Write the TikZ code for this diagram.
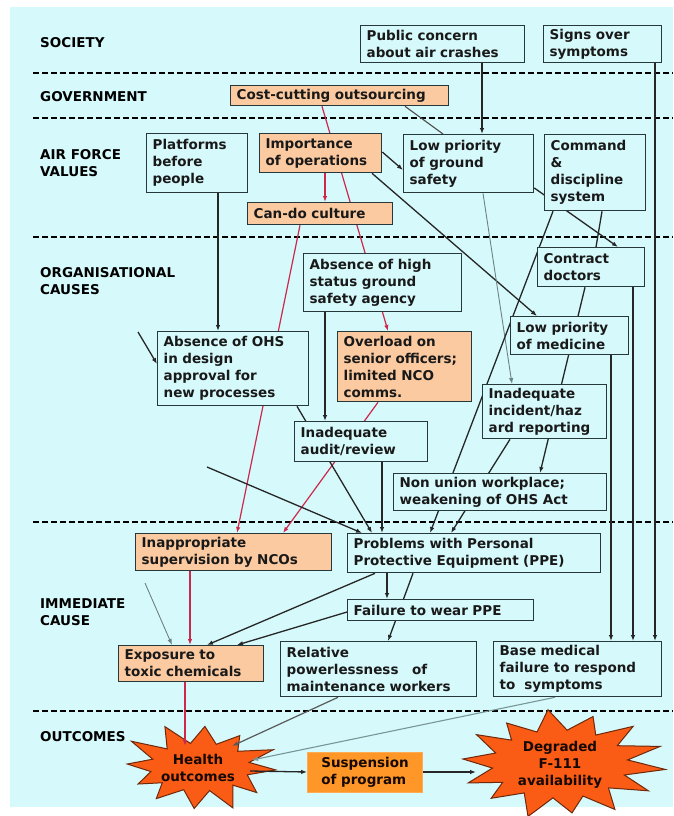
\documentclass[tikz,border=0pt]{standalone}
\usepackage{fontspec}
\setmainfont{DejaVu Sans}
\usetikzlibrary{arrows.meta}
\definecolor{bgcyan}{RGB}{214,249,251}
\definecolor{peach}{RGB}{251,202,160}
\definecolor{bordc}{RGB}{38,56,58}
\definecolor{redc}{RGB}{205,40,75}
\definecolor{burstc}{RGB}{250,92,22}
\definecolor{burstline}{RGB}{110,40,10}
\definecolor{suspc}{RGB}{255,150,40}
\definecolor{txtc}{RGB}{25,25,25}
\definecolor{grayl}{RGB}{110,130,130}
\definecolor{tealg}{RGB}{120,150,150}
\pgfdeclarelayer{bg}
\pgfdeclarelayer{edges}
\pgfsetlayers{bg,edges,main}
\tikzset{
  txt/.style={font=\fontsize{13.5}{17}\selectfont\bfseries, text=txtc},
  bx/.style={txt, draw=bordc, line width=1.3pt, fill=bgcyan, anchor=north west,
    inner xsep=6pt, inner ysep=0pt, align=left},
  obx/.style={bx, fill=peach},
  lbl/.style={txt, text=black, anchor=west, align=left, inner sep=0pt},
  sep/.style={line width=2pt, dash pattern=on 6pt off 3pt, black},
  arr/.style={-{Latex[length=6pt,width=4.5pt]}},
  blk/.style={arr, line width=1.3pt, black!85},
  nar/.style={line width=1.3pt, black!85},
  redl/.style={arr, line width=1.2pt, redc},
  redthick/.style={arr, line width=2.6pt, redc},
  gryl/.style={arr, line width=0.9pt, grayl},
  gryna/.style={line width=1.1pt, black!70},
  burstfill/.style={draw=burstline, line width=1pt, fill=burstc, line join=miter},
  bursttxt/.style={txt, text=black!80!burstline, align=center, inner sep=1pt}
}
\begin{document}
\begin{tikzpicture}[x=1pt,y=-1pt]
\useasboundingbox (0,0) rectangle (673,816);
\begin{pgfonlayer}{bg}
  \fill[white] (0,0) rectangle (673,816);
  \fill[bgcyan] (10,7) rectangle (673,807);
  \draw[sep] (33,73) -- (673,73);
  \draw[sep] (33,118) -- (673,118);
  \draw[sep] (33,237) -- (673,237);
  \draw[sep] (33,522) -- (673,522);
  \draw[sep] (33,711) -- (673,711);
\end{pgfonlayer}

% section labels
\node[lbl] (lsoc) at (40,43) {SOCIETY};
\node[lbl] (lgov) at (40,97) {GOVERNMENT};
\node[lbl] (laf) at (40,163) {AIR FORCE\\VALUES};
\node[lbl] (lorg) at (40,281) {ORGANISATIONAL\\CAUSES};
\node[lbl] (limm) at (40,612) {IMMEDIATE\\CAUSE};
\node[lbl] (lout) at (40,737) {OUTCOMES};

% boxes
\node[bx, minimum width=164pt, minimum height=37pt, text width=152pt] (pub) at (360,25) {Public concern\\about air crashes};
\node[bx, minimum width=118pt, minimum height=37pt, text width=106pt] (signs) at (543,25) {Signs over\\symptoms};
\node[obx, minimum width=218pt, minimum height=20pt, text width=206pt] (cost) at (230,85) {Cost-cutting outsourcing};
\node[bx, minimum width=101pt, minimum height=59pt, text width=89pt] (plat) at (146,133) {Platforms\\before\\people};
\node[obx, minimum width=122pt, minimum height=39pt, text width=110pt] (imp) at (259,133) {Importance\\of operations};
\node[bx, minimum width=130pt, minimum height=58pt, text width=118pt] (lpgs) at (403,134) {Low priority\\of ground\\safety};
\node[bx, minimum width=101pt, minimum height=76pt, text width=89pt] (cmd) at (544,134) {Command\\\&\\discipline\\system};
\node[obx, minimum width=145pt, minimum height=22pt, text width=133pt] (cando) at (247,202) {Can-do culture};
\node[bx, minimum width=158pt, minimum height=58pt, text width=146pt] (ahs) at (303,253) {Absence of high\\status ground\\safety agency};
\node[bx, minimum width=107pt, minimum height=39pt, text width=95pt] (cdoc) at (537,247) {Contract\\doctors};
\node[bx, minimum width=118pt, minimum height=38pt, text width=106pt] (lpm) at (510,316) {Low priority\\of medicine};
\node[bx, minimum width=151pt, minimum height=74pt, text width=139pt] (aohs) at (157,331) {Absence of OHS\\in design\\approval for\\new processes};
\node[obx, minimum width=134pt, minimum height=70pt, text width=122pt] (ovl) at (337,331) {Overload on\\senior officers;\\limited NCO\\comms.};
\node[bx, minimum width=124pt, minimum height=54pt, text width=112pt] (iir) at (482,384) {Inadequate\\incident/haz\\ard reporting};
\node[bx, minimum width=133pt, minimum height=40pt, text width=121pt] (aud) at (294,421) {Inadequate\\audit/review};
\node[bx, minimum width=213pt, minimum height=37pt, text width=201pt] (nonu) at (393,473) {Non union workplace;\\weakening of OHS Act};
\node[obx, minimum width=196pt, minimum height=37pt, text width=184pt] (ias) at (135,533) {Inappropriate\\supervision by NCOs};
\node[bx, minimum width=253pt, minimum height=39pt, text width=241pt] (ppe) at (347,533) {Problems with Personal\\Protective Equipment (PPE)};
\node[bx, minimum width=186pt, minimum height=21pt, text width=174pt] (fail) at (347,599) {Failure to wear PPE};
\node[obx, minimum width=145pt, minimum height=36pt, text width=133pt] (expo) at (118,645) {Exposure to\\toxic chemicals};
\node[bx, minimum width=196pt, minimum height=55pt, text width=184pt] (rel) at (280,641) {Relative\\powerlessness\ \ \ of\\maintenance workers};
\node[bx, minimum width=168pt, minimum height=55pt, text width=156pt] (base) at (493,641) {Base medical\\failure to respond\\to\ \ symptoms};

% outcomes: starburst outlines
\filldraw[burstfill] plot[samples at={0,...,23}, variable=\k]
  ({200 + (mod(\k,2)==0 ? 76*(1+0.10*sin(\k*137)) : 50)*cos(\k*15+4)},
   {767 + (mod(\k,2)==0 ? 42*(1+0.10*sin(\k*211)) : 24)*sin(\k*15+4)}) -- cycle;
\filldraw[burstfill] plot[samples at={0,...,27}, variable=\k]
  ({560 + (mod(\k,2)==0 ? 106*(1+0.08*sin(\k*173)) : 68)*cos(\k*12.857+6)},
   {764 + (mod(\k,2)==0 ? 52*(1+0.08*sin(\k*97)) : 34)*sin(\k*12.857+6)}) -- cycle;
\node[bursttxt] (health) at (198,768) {Health\\outcomes};
\node[txt, fill=suspc, draw=suspc!80!white, line width=0.8pt, minimum width=115pt, minimum height=40pt, align=left, text=black!80!burstline] (susp) at (365,772) {Suspension\\of program};
\node[bursttxt] (degr) at (560,765) {Degraded\\F-111\\availability};

% free ends
\coordinate (f1) at (138,332);
\coordinate (f2) at (207,467);
\coordinate (f3) at (145,583);

\begin{pgfonlayer}{edges}
  \draw[blk] (pub.south -| 482,0) -- (lpgs.north -| 482,0);
  \draw[blk] (signs.south -| 655,0) -- (base.north -| 655,0);
  \draw[redl] (cost.south -| 322,0) -- (ovl.north -| 388,0);
  \draw[redl] (imp.south -| 325,0) -- (cando.north -| 325,0);
  \draw[redl] (cando.south -| 300,0) -- (ias.north -| 237,0);
  \draw[redl] (ovl.south -| 378,0) -- (ias.north -| 283,0);
  \draw[redthick] (ias.south -| 190,0) -- (expo.north -| 190,0);
  \draw[blk] (imp.east |- 0,152) -- (lpgs.west |- 0,170);
  \draw[gryna] (cost.south -| 405,0) -- (lpgs.north -| 443,0);
  \draw[blk] (imp.south -| 372,0) -- (lpm.north -| 537,0);
  \draw[blk] (lpgs.east |- 0,188) -- (cdoc.north -| 618,0);
  \draw[nar] (cmd.south -| 602,0) -- (cdoc.north -| 596,0);
  \draw[gryl] (lpgs.south -| 483,0) -- (iir.north -| 512,0);
  \draw[blk] (cmd.south -| 553,0) -- (ppe.north -| 430,0);
  \draw[blk] (cdoc.south -| 585,0) -- (nonu.north -| 540,0);
  \draw[blk] (iir.south -| 510,0) -- (ppe.north -| 451,0);
  \draw[blk] (lpm.south -| 611,0) -- (base.north -| 611,0);
  \draw[blk] (cdoc.south -| 633,0) -- (base.north -| 633,0);
  \draw[blk] (plat.south -| 218,0) -- (aohs.north -| 218,0);
  \draw[blk] (f1) -- (aohs.west |- 0,364);
  \draw[blk] (ahs.south -| 325,0) -- (aud.north -| 325,0);
  \draw[blk] (aohs.south -| 297,0) -- (ppe.north -| 372,0);
  \draw[blk] (aud.south -| 382,0) -- (ppe.north -| 382,0);
  \draw[blk] (f2) -- (ppe.north -| 362,0);
  \draw[blk] (ppe.south -| 387,0) -- (fail.north -| 387,0);
  \draw[blk] (ppe.south -| 375,0) -- (expo.north -| 207,0);
  \draw[blk] (ppe.south -| 413,0) -- (rel.north -| 388,0);
  \draw[blk] (fail.west |- 0,612) -- (expo.north -| 237,0);
  \draw[gryl] (f3) -- (expo.north -| 172,0);
\end{pgfonlayer}
% connectors drawn over the starbursts
\draw[redl] (expo.south -| 185,0) -- ([xshift=-13pt,yshift=22pt]health.center);
\draw[arr, line width=1.2pt, black!65] (rel.south -| 338,0) -- ([xshift=34pt,yshift=22pt]health.center);
\draw[arr, line width=1.1pt, tealg] (base.south -| 555,0) -- ([xshift=54pt,yshift=8pt]health.center);
\draw[blk] ([xshift=52pt,yshift=-3pt]health.center) -- (susp.west);
\draw[blk] (susp.east) -- ([xshift=-84pt,yshift=-7pt]degr.center);
\end{tikzpicture}
\end{document}
